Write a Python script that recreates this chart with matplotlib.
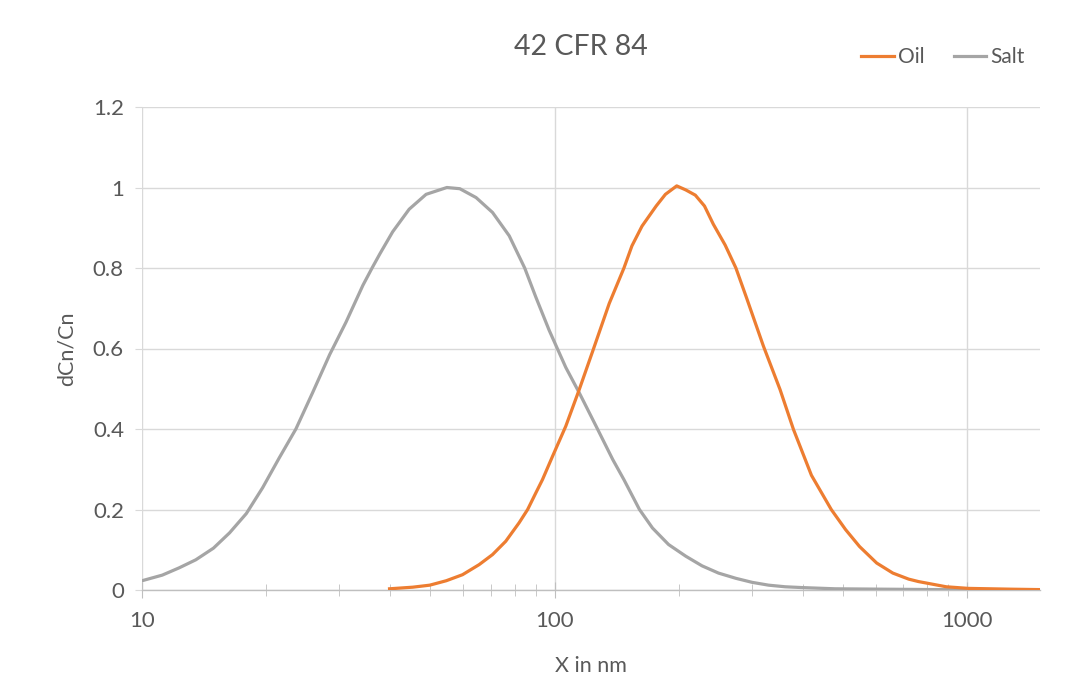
import numpy as np
import matplotlib
matplotlib.use("Agg")
import matplotlib.pyplot as plt
from matplotlib.ticker import LogLocator, FixedLocator, FuncFormatter, NullFormatter

plt.rcParams['font.family'] = ['Lato', 'DejaVu Sans']

# Salt distribution
salt_x = [10, 11.2, 12.3, 13.5, 14.9, 16.3, 17.9, 19.6, 21.5, 23.6, 25.9, 28.5,
          31.2, 34.3, 36.1, 37.7, 40.5, 44.4, 48.8, 54.8, 58.9, 64.5, 70.7,
          77.6, 84.6, 90, 97, 106.4, 114.7, 126, 138.3, 147.2, 160.5, 172.6,
          188.8, 207.8, 227.6, 249.5, 274.9, 301, 330, 362, 398, 478, 632,
          1000, 1500]
salt_y = [0.023, 0.037, 0.055, 0.075, 0.104, 0.142, 0.19, 0.254, 0.328, 0.40,
          0.49, 0.585, 0.665, 0.757, 0.80, 0.835, 0.89, 0.946, 0.983, 1.0, 0.997,
          0.975, 0.938, 0.88, 0.80, 0.728, 0.645, 0.553, 0.49, 0.407, 0.324,
          0.274, 0.2, 0.154, 0.113, 0.084, 0.06, 0.042, 0.029, 0.019, 0.012,
          0.008, 0.006, 0.003, 0.002, 0.0005, 0.0]

# Oil distribution
oil_x = [39.8, 45.3, 49.8, 54.6, 59.8, 65.6, 70.7, 76.1, 82, 86, 90, 93.4, 98.8,
         106.4, 114.7, 123.7, 135.6, 147.2, 153.9, 162.8, 176.2, 185.5, 197.6,
         207.8, 219.2, 230.7, 242.3, 258.9, 274.9, 291.7, 320.5, 351.7, 379,
         419, 468, 507, 548, 603, 660, 721, 761, 889, 1006, 1282, 1500]
oil_y = [0.003, 0.007, 0.012, 0.023, 0.038, 0.063, 0.088, 0.121, 0.167, 0.2,
         0.241, 0.274, 0.332, 0.407, 0.498, 0.594, 0.712, 0.8, 0.855, 0.904,
         0.954, 0.983, 1.004, 0.994, 0.981, 0.954, 0.909, 0.857, 0.8, 0.726,
         0.606, 0.498, 0.399, 0.285, 0.2, 0.15, 0.108, 0.067, 0.042, 0.027,
         0.021, 0.008, 0.004, 0.002, 0.001]

text_col = '#595959'
grid_col = '#D9D9D9'

fig = plt.figure(figsize=(10.88, 7.0), dpi=100)
ax = fig.add_axes([142 / 1088, 1 - 590 / 700, (1040 - 142) / 1088, (590 - 107) / 700])

ax.plot(salt_x, salt_y, color='#A5A5A5', lw=2.3, label='Salt', zorder=3,
        solid_joinstyle='round')
ax.plot(oil_x, oil_y, color='#ED7D31', lw=2.3, label='Oil', zorder=4,
        solid_joinstyle='round')

ax.set_xscale('log')
ax.set_xlim(10, 1500)
ax.set_ylim(0, 1.2)

ax.xaxis.set_major_locator(FixedLocator([10, 100, 1000]))
ax.xaxis.set_major_formatter(FuncFormatter(lambda v, p: f"{v:g}"))
ax.xaxis.set_minor_locator(LogLocator(base=10, subs=np.arange(2, 10)))
ax.xaxis.set_minor_formatter(NullFormatter())
ax.set_yticks(np.arange(0, 1.21, 0.2))
ax.yaxis.set_major_formatter(FuncFormatter(lambda v, p: f"{round(v, 1):g}"))

ax.grid(True, which='major', color=grid_col, lw=1.0, zorder=0)
ax.set_axisbelow(True)
for s in ['top', 'right', 'left']:
    ax.spines[s].set_visible(False)
ax.spines['bottom'].set_color('#BFBFBF')
ax.spines['bottom'].set_linewidth(1.0)

ax.tick_params(axis='x', which='major', direction='inout', length=12, color='#BFBFBF',
               labelsize=16, labelcolor=text_col, pad=9)
ax.tick_params(axis='x', which='minor', direction='inout', length=9, color='#BFBFBF')
ax.tick_params(axis='y', which='major', direction='out', length=5, color=grid_col,
               labelsize=16, labelcolor=text_col, pad=8)

ax.set_xlabel('X in nm', fontsize=15.5, color=text_col, labelpad=18)
ax.set_ylabel('dCn/Cn', fontsize=15.5, color=text_col, labelpad=12)

fig.text(581 / 1088, 1 - 47 / 700, '42 CFR 84', fontsize=20.5, color=text_col,
         ha='center', va='center')

handles, labels = ax.get_legend_handles_labels()
fig.legend(handles[::-1], labels[::-1], loc='center', bbox_to_anchor=(943 / 1088, 1 - 57 / 700),
           ncol=2, frameon=False, fontsize=15, labelcolor=text_col, handlelength=1.55,
           handletextpad=0.2, columnspacing=1.4)

fig.savefig('out.png', dpi=100, facecolor='white')
